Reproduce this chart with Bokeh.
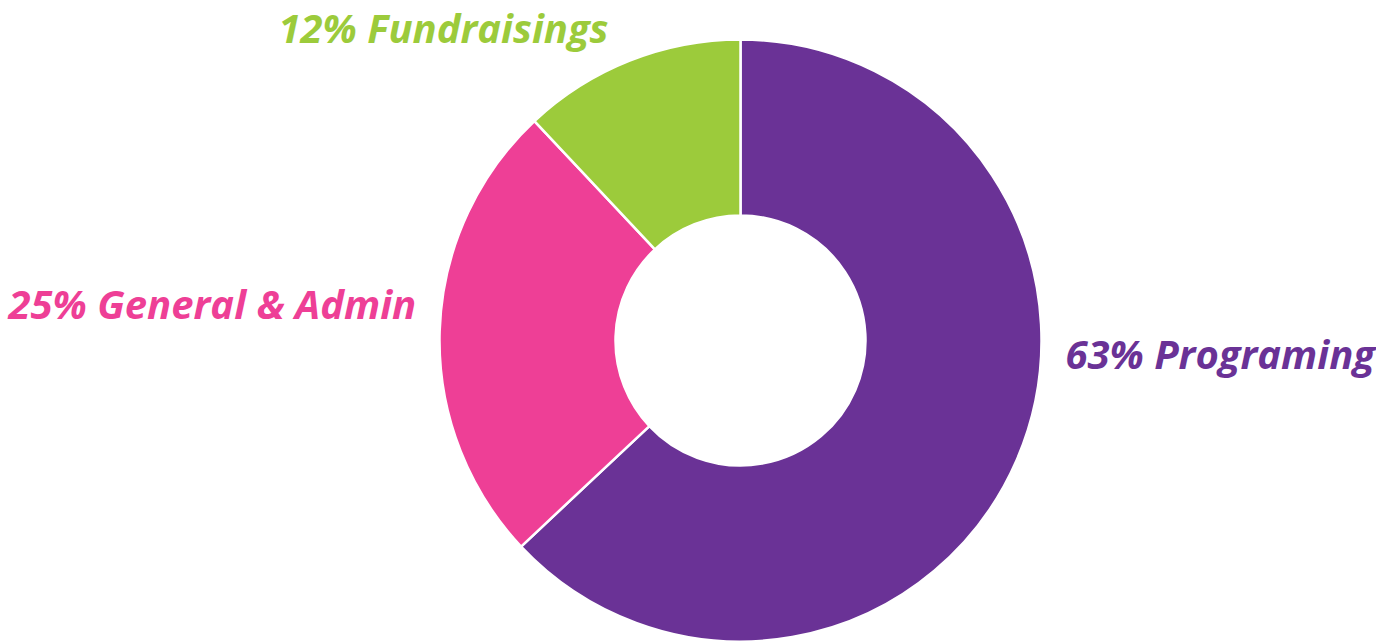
import math
from bokeh.plotting import figure
from bokeh.models import Range1d
from bokeh.core.properties import value
from bokeh.embed import file_html
from bokeh.resources import INLINE

categories = ["Programing", "General & Admin", "Fundraisings"]
percents = [63, 25, 12]
colors = ["#6A3296", "#EE3F96", "#9CCB3B"]

W, H = 1376, 641
p = figure(width=W, height=H, output_backend="svg", toolbar_location=None,
           x_range=Range1d(0, W), y_range=Range1d(0, H), min_border=0)
p.axis.visible = False
p.grid.visible = False
p.outline_line_color = None
p.background_fill_color = "white"

def sx(x):
    return x
def sy(y):
    return H - y

cx, cy = sx(740), sy(340)
total = sum(percents)
starts, ends = [], []
cum = 0
for v in percents:
    a0 = math.pi / 2 - 2 * math.pi * cum / total
    cum += v
    a1 = math.pi / 2 - 2 * math.pi * cum / total
    starts.append(a1)
    ends.append(a0)

p.annular_wedge(x=[cx] * 3, y=[cy] * 3, inner_radius=125, outer_radius=301,
                inner_radius_units="screen", outer_radius_units="screen",
                start_angle=starts, end_angle=ends,
                fill_color=colors, line_color="white", line_width=2.5)

labels = [f"{v}% {c}" for v, c in zip(percents, categories)]
lx = [sx(1065), sx(8), sx(278)]
ly = [sy(353), sy(303), sy(27)]
p.text(x=lx, y=ly, text=labels, text_color=colors,
       text_font=value("Open Sans"), text_font_style="bold italic",
       text_font_size="40px", text_align="left", text_baseline="alphabetic")

open("out.html", "w").write(file_html(p, INLINE))
